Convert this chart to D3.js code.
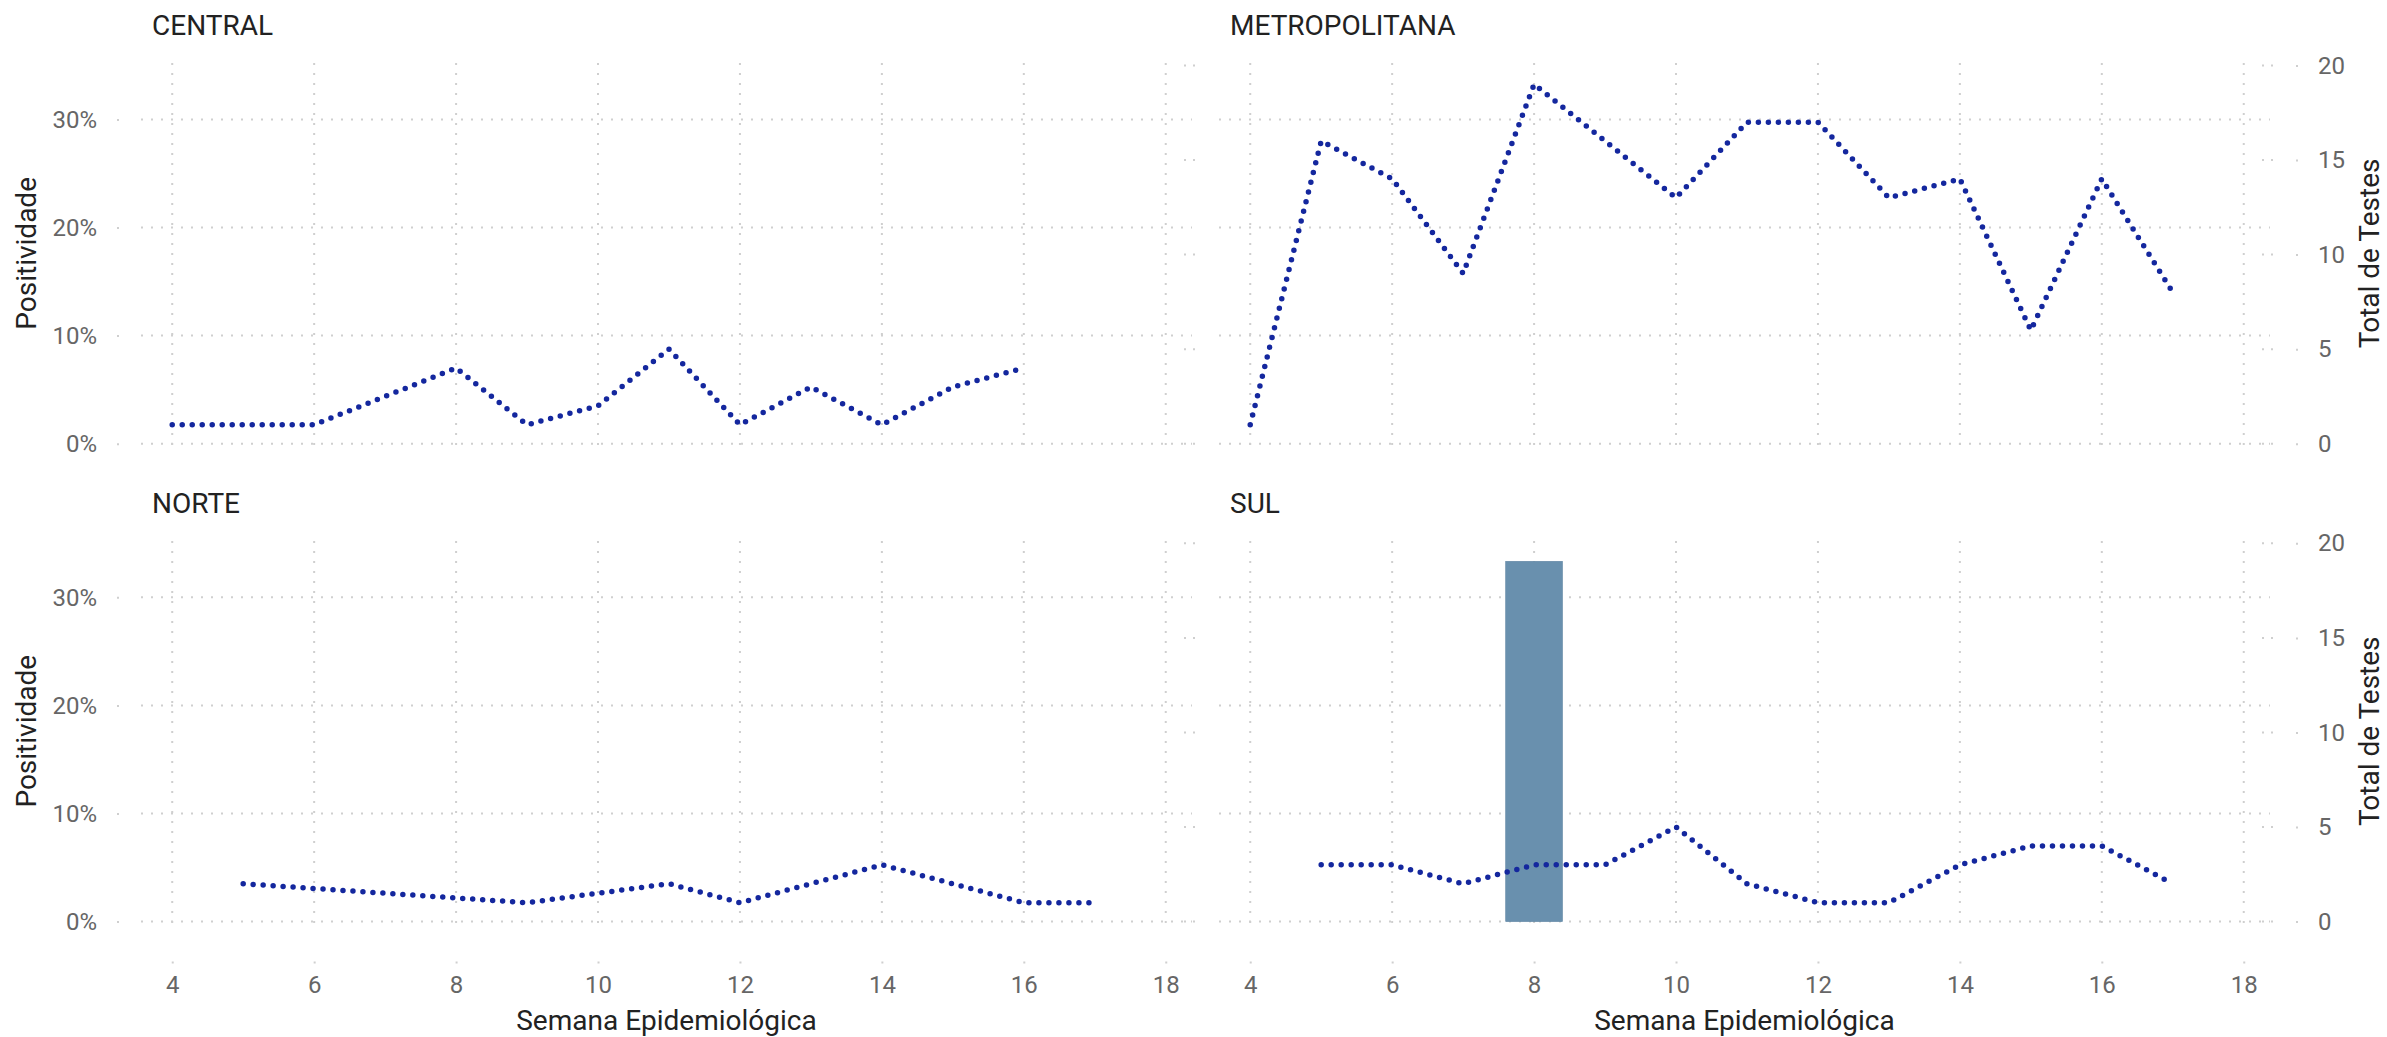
<!DOCTYPE html>
<html>
<head>
<meta charset="utf-8">
<script src="https://cdn.jsdelivr.net/npm/d3@7"></script>
<style>
  html, body { margin: 0; padding: 0; background: #ffffff; }
  svg { display: block; font-family: Roboto, "Noto Sans", sans-serif; }
</style>
</head>
<body>
<svg id="chart" width="2387" height="1037"></svg>
<script>
// ---------------- data ----------------
const regions = ["CENTRAL", "METROPOLITANA", "NORTE", "SUL"];

const centralWeeks = [4, 5, 6, 8, 9, 10, 11, 12, 13, 14, 15, 16];
const centralTests = [1, 1, 1, 4, 1, 2, 5, 1, 3, 1, 3, 4];
const centralPositivity = [0, 0, 0, 0, 0, 0, 0, 0, 0, 0, 0, 0];

const metroWeeks = [4, 5, 6, 7, 8, 9, 10, 11, 12, 13, 14, 15, 16, 17];
const metroTests = [1, 16, 14, 9, 19, 16, 13, 17, 17, 13, 14, 6, 14, 8];
const metroPositivity = [0, 0, 0, 0, 0, 0, 0, 0, 0, 0, 0, 0, 0, 0];

const norteWeeks = [5, 9, 11, 12, 13, 14, 15, 16, 17];
const norteTests = [2, 1, 2, 1, 2, 3, 2, 1, 1];
const nortePositivity = [0, 0, 0, 0, 0, 0, 0, 0, 0];

const sulWeeks = [5, 6, 7, 8, 9, 10, 11, 12, 13, 14, 15, 16, 17];
const sulTests = [3, 3, 2, 3, 3, 5, 2, 1, 1, 3, 4, 4, 2];
const sulPositivity = [0, 0, 0, 1 / 3, 0, 0, 0, 0, 0, 0, 0, 0, 0];

const weekTicks = [4, 6, 8, 10, 12, 14, 16, 18];
const positivityTicks = [0, 0.1, 0.2, 0.3];
const testTicks = [0, 5, 10, 15, 20];

const xLabel = "Semana Epidemiológica";
const yLabel = "Positividade";
const y2Label = "Total de Testes";

// ---------------- layout ----------------
const svg = d3.select("#chart");
const colLeft = [141, 1219];
const panelW = 1051;
const zeroY = [443.7, 921.6];
const plotH = 378.3;          // 0 -> 35%
const xDomain = [3.56, 18.37];
const pctMax = 0.35;
const testMax = 20;

const gridColor = "#cfcfcf";
const lineColor = "#14279e";
const barColor = "#6990ae";
const textDark = "#222222";
const tickText = "#666666";

const seriesByRegion = {
  CENTRAL: { weeks: centralWeeks, tests: centralTests, pos: centralPositivity },
  METROPOLITANA: { weeks: metroWeeks, tests: metroTests, pos: metroPositivity },
  NORTE: { weeks: norteWeeks, tests: norteTests, pos: nortePositivity },
  SUL: { weeks: sulWeeks, tests: sulTests, pos: sulPositivity }
};

regions.forEach((name, i) => {
  const col = i % 2, row = Math.floor(i / 2);
  const left = colLeft[col], right = left + panelW;
  const y0 = zeroY[row];
  const top = y0 - 380.7, bottom = y0 + 1.8;

  const x = d3.scaleLinear().domain(xDomain).range([left, right]);
  const y = d3.scaleLinear().domain([0, pctMax]).range([y0, y0 - plotH]);
  const y2 = d3.scaleLinear().domain([0, testMax]).range([y0, y0 - plotH]);

  const g = svg.append("g");

  // grid
  g.selectAll("line.hgrid").data(positivityTicks).join("line")
    .attr("x1", left).attr("x2", right)
    .attr("y1", d => y(d)).attr("y2", d => y(d))
    .attr("stroke", gridColor).attr("stroke-width", 2)
    .attr("stroke-dasharray", "2 8");
  g.selectAll("line.vgrid").data(weekTicks).join("line")
    .attr("x1", d => x(d)).attr("x2", d => x(d))
    .attr("y1", top).attr("y2", bottom)
    .attr("stroke", gridColor).attr("stroke-width", 2)
    .attr("stroke-dasharray", "2 8");
  // secondary tick remnants at panel right edge
  g.selectAll("line.sec").data(testTicks).join("line")
    .attr("x1", right - 8).attr("x2", right + 4)
    .attr("y1", d => y2(d)).attr("y2", d => y2(d))
    .attr("stroke", gridColor).attr("stroke-width", 2)
    .attr("stroke-dasharray", "2 7");

  const s = seriesByRegion[name];
  const rows = s.weeks.map((w, k) => ({ w, t: s.tests[k], p: s.pos[k] }));

  // bars (positivity, left axis)
  g.selectAll("rect.bar").data(rows.filter(d => d.p > 0)).join("rect")
    .attr("x", d => x(d.w - 0.4))
    .attr("width", d => x(d.w + 0.4) - x(d.w - 0.4))
    .attr("y", d => y(d.p))
    .attr("height", d => y(0) - y(d.p))
    .attr("fill", barColor)
    .attr("stroke", "#5f85a3").attr("stroke-width", 0.6);

  // line (total tests, right axis)
  const line = d3.line().x(d => x(d.w)).y(d => y2(d.t));
  g.append("path").datum(rows)
    .attr("d", line)
    .attr("fill", "none")
    .attr("stroke", lineColor)
    .attr("stroke-width", 5.5)
    .attr("stroke-linecap", "round")
    .attr("stroke-linejoin", "round")
    .attr("stroke-dasharray", "0 10");

  // panel title
  g.append("text")
    .attr("x", left + 11).attr("y", y0 - 408.7)
    .attr("font-size", 28).attr("fill", textDark)
    .text(name);

  // left axis
  if (col === 0) {
    const ax = g.append("g").attr("transform", `translate(${left},0)`)
      .call(d3.axisLeft(y).tickValues(positivityTicks).tickFormat(d3.format(".0%"))
        .tickSize(24).tickPadding(20));
    ax.select(".domain").remove();
    ax.selectAll(".tick line").attr("stroke", gridColor).attr("stroke-width", 2)
      .attr("stroke-dasharray", "0 22 2 10");
    ax.selectAll(".tick text").attr("font-size", 24).attr("fill", tickText)
      .attr("font-family", "Roboto, sans-serif");
    g.append("text")
      .attr("transform", `translate(36,${(top + y0) / 2}) rotate(-90)`)
      .attr("text-anchor", "middle").attr("font-size", 28).attr("fill", textDark)
      .text(yLabel);
  }
  // right axis
  if (col === 1) {
    const ax = g.append("g").attr("transform", `translate(${right},0)`)
      .call(d3.axisRight(y2).tickValues(testTicks).tickSize(28).tickPadding(20));
    ax.select(".domain").remove();
    ax.selectAll(".tick line").attr("stroke", gridColor).attr("stroke-width", 2)
      .attr("stroke-dasharray", "0 26 2 10");
    ax.selectAll(".tick text").attr("font-size", 24).attr("fill", tickText)
      .attr("font-family", "Roboto, sans-serif");
    g.append("text")
      .attr("transform", `translate(2379,${(top + y0) / 2}) rotate(-90)`)
      .attr("text-anchor", "middle").attr("font-size", 28).attr("fill", textDark)
      .text(y2Label);
  }
  // bottom axis
  if (row === 1) {
    const ax = g.append("g").attr("transform", `translate(0,${bottom})`)
      .call(d3.axisBottom(x).tickValues(weekTicks).tickFormat(d3.format("d"))
        .tickSize(40).tickPadding(12.5));
    ax.select(".domain").remove();
    ax.selectAll(".tick line").attr("stroke", gridColor).attr("stroke-width", 2)
      .attr("stroke-dasharray", "0 38 2 10");
    ax.selectAll(".tick text").attr("font-size", 24).attr("fill", tickText)
      .attr("font-family", "Roboto, sans-serif");
    g.append("text")
      .attr("x", (left + right) / 2).attr("y", 1030)
      .attr("text-anchor", "middle").attr("font-size", 28).attr("fill", textDark)
      .text(xLabel);
  }
});
</script>
</body>
</html>
